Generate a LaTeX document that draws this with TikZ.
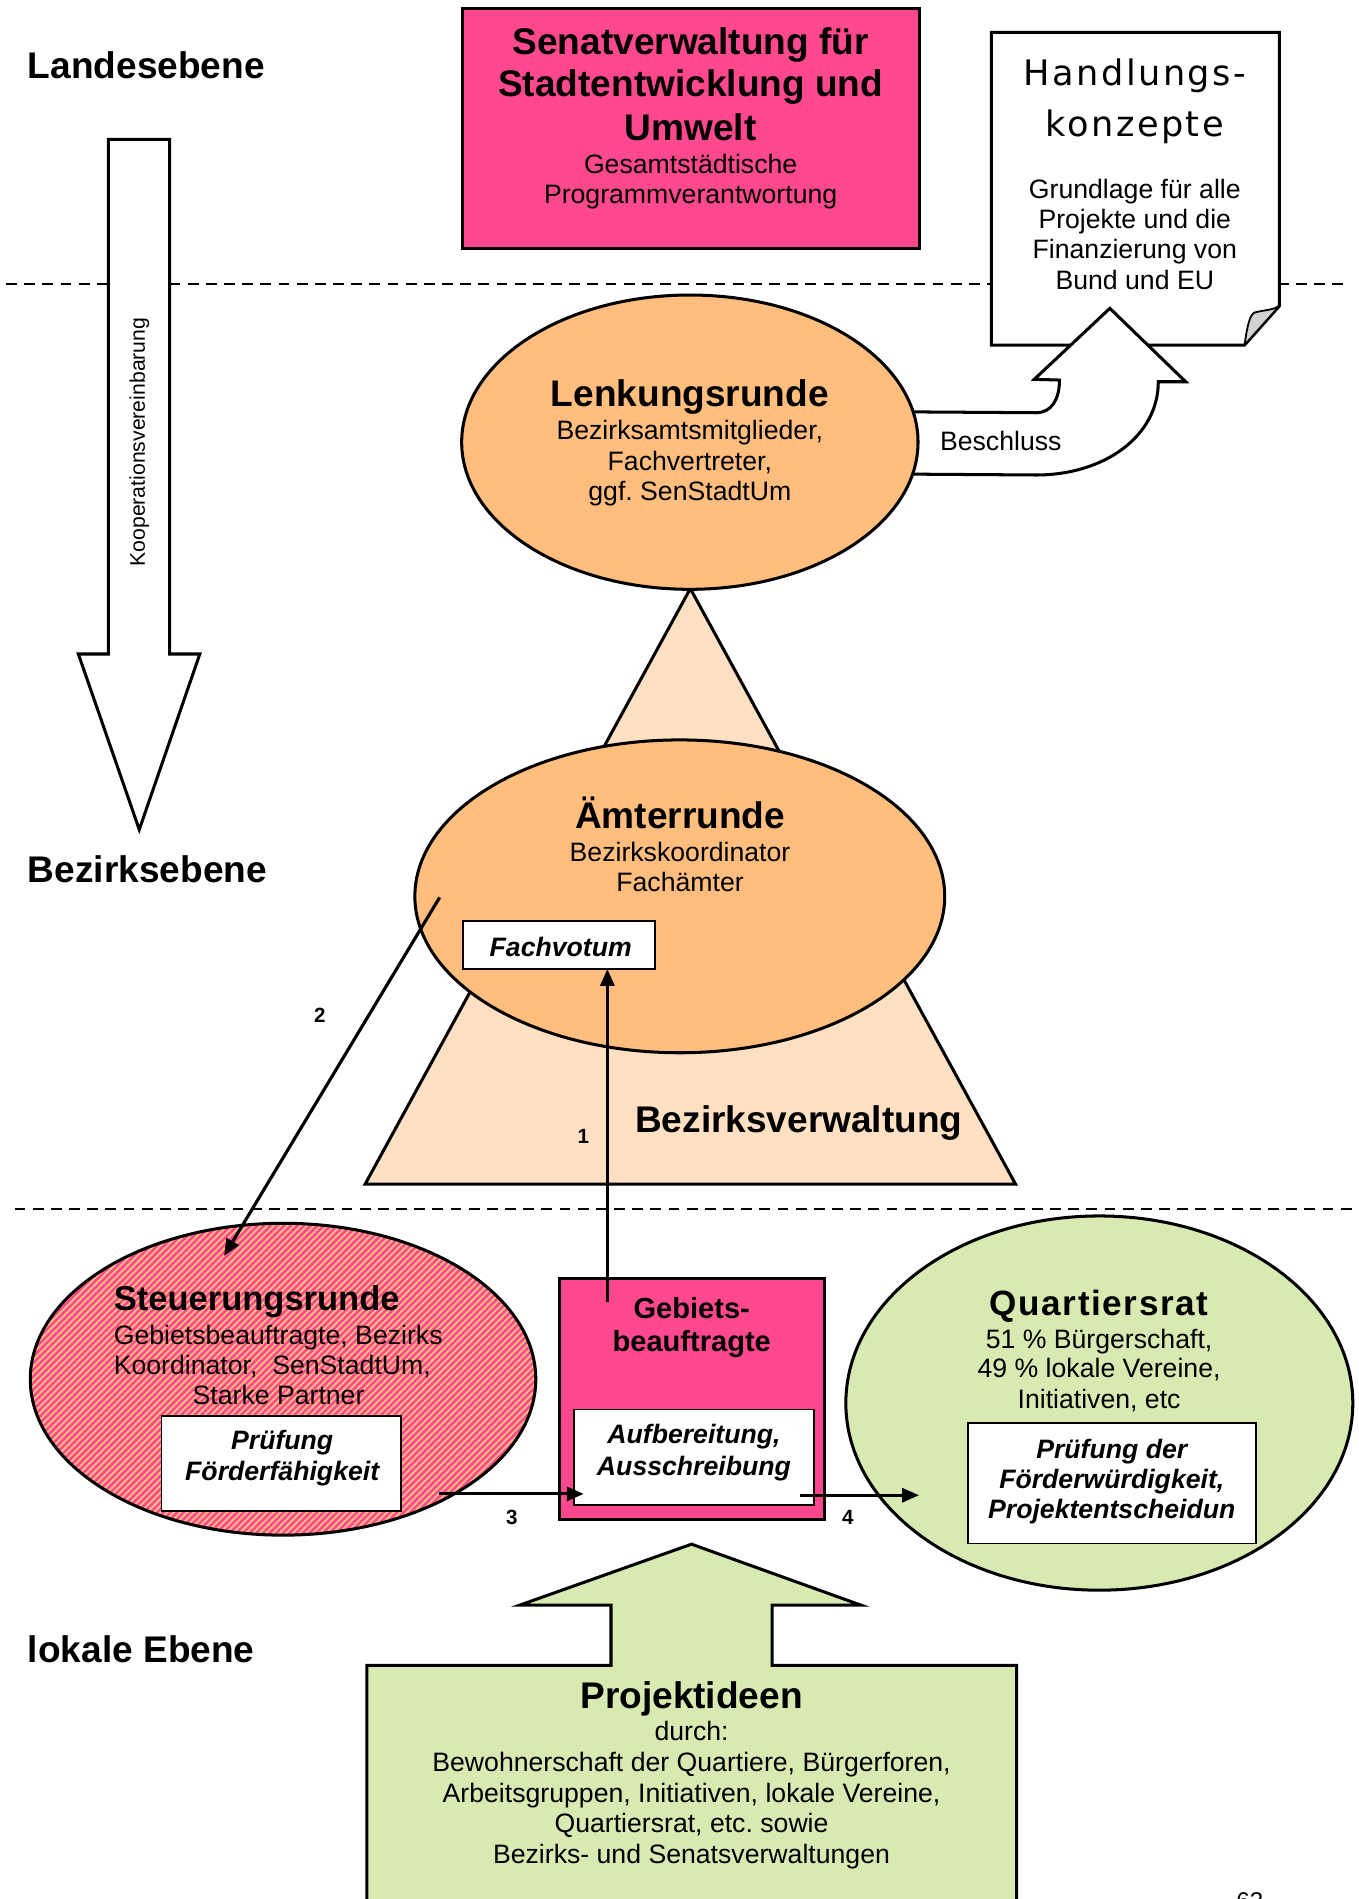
\documentclass[tikz,border=0pt]{standalone}
\usepackage{fontspec}
\setmainfont{Liberation Sans}
\newfontfamily\dejavu{DejaVu Sans}
\usetikzlibrary{shapes.geometric,arrows.meta}
\definecolor{hpink}{RGB}{255,72,142}
\definecolor{lorange}{RGB}{255,190,125}
\definecolor{peach}{RGB}{255,224,194}
\definecolor{lgreen}{RGB}{216,233,178}
\frenchspacing
\begin{document}
\begin{tikzpicture}[x=1pt,y=-1pt,
  shapeline/.style={draw=black, line width=2.5pt, line join=miter},
  boxnode/.style={draw=black, line width=2.5pt, inner sep=0, outer sep=0},
  thinbox/.style={draw=black, line width=1.5pt, fill=white, inner sep=0, outer sep=0},
  ell/.style={ellipse, draw=black, line width=2.5pt, inner sep=0, outer sep=0},
  ttl/.style={font=\fontsize{30.6}{35}\selectfont\bfseries, inner sep=0, anchor=base},
  sub/.style={font=\fontsize{22}{25}\selectfont, inner sep=0, anchor=base},
  boxt/.style={font=\fontsize{22}{25}\selectfont\bfseries\itshape, inner sep=0, anchor=base},
  num/.style={font=\fontsize{17}{19}\selectfont\bfseries, inner sep=0, anchor=base},
  lvl/.style={font=\fontsize{30.6}{35}\selectfont\bfseries, inner sep=0, anchor=base west},
  conn/.style={line width=2.6pt, -{Triangle[length=14pt,width=11.5pt]}},
  divider/.style={line width=1.4pt, dash pattern=on 9pt off 6pt},
  stripe/.style={draw=hpink, line width=2.1pt},
]
\useasboundingbox (0,0) rectangle (1122,1568);

% level dividers
\coordinate (d1a) at (5,234.5);
\coordinate (d1b) at (1110,234.5);
\coordinate (d2a) at (12,998);
\coordinate (d2b) at (1118,998);
\draw[divider] (d1a) -- (d1b);
\draw[divider] (d2a) -- (d2b);

% level labels
\node[lvl] (lland) at (22.9,64.7) {Landesebene};
\node[lvl] (lbez) at (22.9,729) {Bezirksebene};
\node[lvl] (llok) at (22.9,1373) {lokale Ebene};

% Kooperationsvereinbarung arrow
\draw[shapeline, fill=white] (89.5,115) -- (140,115) -- (140,540) -- (165,540) -- (115,685) -- (64.7,540) -- (89.5,540) -- cycle;
\node[font=\fontsize{17.5}{20}\selectfont, inner sep=0, anchor=base, rotate=90] (koop) at (119.7,365) {Kooperationsvereinbarung};

% Bezirksverwaltung triangle
\draw[shapeline, fill=peach] (570,486) -- (838.5,977.7) -- (301.5,977.7) -- cycle;

% Senat box
\node[boxnode, fill=hpink, minimum width=377.5, minimum height=198] (senat) at (570.25,106) {};
\node[ttl] (sen1) at (570.25,45.4) {Senatverwaltung für};
\node[ttl] (sen2) at (570.25,79.8) {Stadtentwicklung und};
\node[ttl] (sen3) at (570.25,115.6) {Umwelt};
\node[sub] (sen4) at (570.25,143.1) {Gesamtstädtische};
\node[sub] (sen5) at (570.25,167.9) {Programmverantwortung};

% Handlungskonzepte document
\draw[shapeline, fill=white] (818.6,26.7) -- (1056.3,26.7) -- (1056.3,252.7) -- (1027.6,284.9) -- (818.6,284.9) -- cycle;
\draw[line width=1.5pt, fill=gray!35, line join=round] (1027.6,284.9) .. controls (1030,268) and (1032,260) .. (1036,258) .. controls (1044,256) and (1051,256) .. (1056.3,252.7) -- cycle;
\node[font=\dejavu\fontsize{29}{32}\selectfont\addfontfeatures{LetterSpace=7}, inner sep=0, anchor=base] (hk1) at (937,70.2) {Handlungs-};
\node[font=\dejavu\fontsize{29}{32}\selectfont\addfontfeatures{LetterSpace=7}, inner sep=0, anchor=base] (hk2) at (937,112.9) {konzepte};
\node[sub] (hk3) at (937,163.8) {Grundlage für alle};
\node[sub] (hk4) at (937,188.5) {Projekte und die};
\node[sub] (hk5) at (937,213.3) {Finanzierung von};
\node[sub] (hk6) at (937,238.9) {Bund und EU};

% Beschluss arrow
\draw[shapeline, fill=white] (740,340) -- (855.7,340.8) .. controls (868,340.8) and (874.8,330) .. (874.8,313.8) -- (854,313.2) -- (916.4,254.6) -- (979,315.2) -- (956.4,315.2) .. controls (956.4,360) and (912,392.2) .. (855.7,392.2) -- (740,391.4) -- cycle;
\node[sub, anchor=base west] (besch) at (776,371.6) {Beschluss};

% Lenkungsrunde
\node[ell, fill=lorange, minimum width=376.8, minimum height=243] (lenk) at (569.6,365.1) {};
\node[ttl] (le1) at (569.6,335.3) {Lenkungsrunde};
\node[sub] (le2) at (569.6,362.8) {Bezirksamtsmitglieder,};
\node[sub] (le3) at (569.6,388.1) {Fachvertreter,};
\node[sub] (le4) at (569.6,412.9) {ggf. SenStadtUm};

% Aemterrunde
\node[ell, fill=lorange, minimum width=437.5, minimum height=258.3] (aemt) at (561.3,740.1) {};
\node[ttl] (ae1) at (561.5,684) {Ämterrunde};
\node[sub] (ae2) at (561.5,711.5) {Bezirkskoordinator};
\node[sub] (ae3) at (561.5,736.3) {Fachämter};
\node[thinbox, minimum width=159, minimum height=39.7] (fach) at (461.5,780.15) {};
\node[boxt] (fachT) at (463,790) {Fachvotum};
\node[ttl] (bzv) at (659.6,935.3) {Bezirksverwaltung};

% Steuerungsrunde (orange ground with pink diagonal stripes)
\fill[lorange] (233.7,1138.8) ellipse [x radius=208.7, y radius=128.75];
\begin{scope}
  \clip (233.7,1138.8) ellipse [x radius=208.7, y radius=128.75];
  \foreach \k in {0,...,126} {
    \draw[stripe] (-240+\k*5.5,1272) -- ++(268,-268);
  }
\end{scope}
\node[ell, minimum width=417.4, minimum height=257.5] (steu) at (233.7,1138.8) {};
\node[font=\fontsize{28.5}{33}\selectfont\bfseries, inner sep=0, anchor=base west] (st1) at (93.8,1081.7) {Steuerungsrunde};
\node[sub, anchor=base west] (st2) at (93.8,1110) {Gebietsbeauftragte, Bezirks};
\node[sub, anchor=base west] (st3) at (93.8,1134.8) {Koordinator,\ \ SenStadtUm,};
\node[sub] (st4) at (230,1159.6) {Starke Partner};
\node[thinbox, minimum width=197.9, minimum height=78.4] (pruef) at (232.25,1208.5) {};
\node[boxt] (pr1) at (233,1196.8) {Prüfung};
\node[boxt] (pr2) at (233,1222.1) {Förderfähigkeit};

% Gebietsbeauftragte
\node[boxnode, fill=hpink, minimum width=219.1, minimum height=199] (geb) at (571.15,1155.1) {};
\node[font=\fontsize{24}{28}\selectfont\bfseries, inner sep=0, anchor=base] (gb1) at (571.15,1088.5) {Gebiets-};
\node[font=\fontsize{24}{28}\selectfont\bfseries, inner sep=0, anchor=base] (gb2) at (571.15,1116) {beauftragte};
\node[thinbox, minimum width=198.7, minimum height=79] (aufb) at (573.05,1203.3) {};
\node[boxt] (au1) at (573,1192) {Aufbereitung,};
\node[boxt] (au2) at (573,1218) {Ausschreibung};

% Quartiersrat
\node[ell, fill=lgreen, minimum width=418.6, minimum height=309] (qr) at (907.7,1158.5) {};
\node[font=\fontsize{29}{33}\selectfont\bfseries\addfontfeatures{LetterSpace=4.5}, inner sep=0, anchor=base] (qr1) at (907.5,1085.9) {Quartiersrat};
\node[sub] (qr2) at (907.5,1113.4) {51 \% Bürgerschaft,};
\node[sub] (qr3) at (907.5,1137.6) {49 \% lokale Vereine,};
\node[sub] (qr4) at (907.5,1163) {Initiativen, etc};
\node[thinbox, minimum width=237.8, minimum height=99.6] (qbox) at (918.1,1224.6) {};
\node[boxt] (qb1) at (918,1204.3) {Prüfung der};
\node[boxt] (qb2) at (918,1229) {Förderwürdigkeit,};
\node[boxt] (qb3) at (918,1253.8) {Projektentscheidun};

% Projektideen arrow
\draw[shapeline, fill=lgreen] (303,1600) -- (303,1375) -- (504.5,1375) -- (504.5,1325.4) -- (429,1325.4) -- (571,1275) -- (711,1325.4) -- (637.5,1325.4) -- (637.5,1375) -- (839.4,1375) -- (839.4,1600) -- cycle;
\node[ttl] (pj1) at (571,1410.7) {Projektideen};
\node[sub] (pj2) at (571,1436.9) {durch:};
\node[sub] (pj3) at (571,1463) {Bewohnerschaft der Quartiere, Bürgerforen,};
\node[sub] (pj4) at (571,1488.3) {Arbeitsgruppen, Initiativen, lokale Vereine,};
\node[sub] (pj5) at (571,1513.4) {Quartiersrat, etc. sowie};
\node[sub] (pj6) at (571,1538.7) {Bezirks- und Senatsverwaltungen};

% connectors
\coordinate (a1s) at (501.5,1075);
\coordinate (a2s) at (363,741);
\coordinate (a2e) at (185,1037);
\coordinate (a3s) at (362.7,1233.5);
\coordinate (a3e) at (482,1233.5);
\coordinate (a4s) at (660.6,1234.6);
\coordinate (a4e) at (758.9,1234.6);
\draw[conn] (a1s) -- (a1s |- fach.south);
\draw[conn] (a2s) -- (a2e);
\draw[conn] (a3s) -- (a3e);
\draw[conn] (a4s) -- (a4e);
\node[num] (n1) at (481.6,944) {1};
\node[num] (n2) at (264,844) {2};
\node[num] (n3) at (422.6,1259) {3};
\node[num] (n4) at (700,1259) {4};

% page number (cut off at the lower edge, as in the source)
\node[font=\fontsize{20}{22}\selectfont, inner sep=0, anchor=north] (pagenum) at (1032,1562.5) {63};
\end{tikzpicture}
\end{document}
